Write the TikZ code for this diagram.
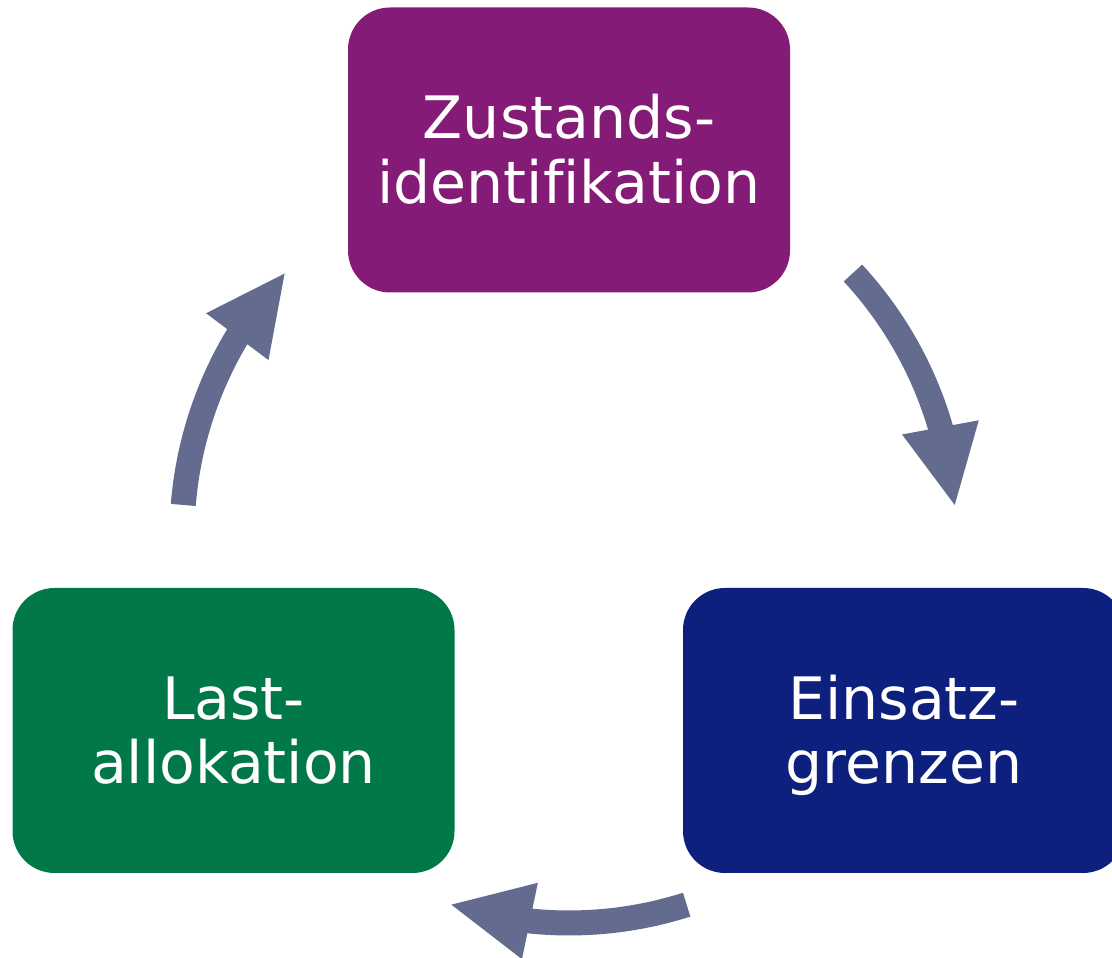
\documentclass[tikz,border=0pt]{standalone}
\usepackage{fontspec}
\setmainfont{DejaVu Sans}[Ligatures=NoCommon]
\usetikzlibrary{calc}
\definecolor{cpurple}{HTML}{841B77}
\definecolor{cgreen}{HTML}{007848}
\definecolor{cnavy}{HTML}{0E207E}
\definecolor{carrow}{HTML}{636C8F}
\begin{document}
\begin{tikzpicture}[x=1pt,y=1pt,
  box/.style={rounded corners=42pt, minimum width=442pt, minimum height=285pt, inner sep=0pt, outer sep=0pt},
  lbl/.style={text=white, align=center, font=\fontsize{58.5}{64.5}\selectfont, inner sep=0pt},
  shaft/.style={draw=carrow, line width=25pt},
  head/.style={fill=carrow}]
\clip (0,0) rectangle (1112,958);
% boxes
\node[box, fill=cpurple] (zst) at (569,808) {};
\node[lbl] (zstT) at ([yshift=-5pt]zst.center) {\vphantom{d}Zustands-\\identifikation\vphantom{g}};
\node[box, fill=cgreen] (last) at (233.5,227.5) {};
\node[lbl] (lastT) at ([yshift=-5pt]last.center) {\vphantom{d}Last-\\allokation\vphantom{g}};
\node[box, fill=cnavy] (ein) at (904,227.5) {};
\node[lbl] (einT) at ([yshift=-5pt]ein.center) {\vphantom{d}Einsatz-\\grenzen\vphantom{g}};
% cycle arrows
\coordinate (c) at (569,422);
% arrow 1
\coordinate (a1s) at ($(c)+(42.8:387pt)$);
\coordinate (a1b) at ($(c)+(16.3:387pt)$);
\coordinate (a1t) at ($(c)+(4.6:387pt)$);
\draw[shaft] (a1s) arc[start angle=42.8, end angle=12, radius=387pt];
\fill[head] (a1t) -- ($(a1b)!39pt!90:(a1t)$) -- ($(a1b)!39pt!-90:(a1t)$) -- cycle;
% arrow 2 (bottom)
\coordinate (a2s) at ($(c)+(-72.3:387pt)$);
\coordinate (a2b) at ($(c)+(-95.8:387pt)$);
\coordinate (a2t) at ($(c)+(-107.7:387pt)$);
\draw[shaft] (a2s) arc[start angle=-72.3, end angle=-99.5, radius=387pt];
\fill[head] (a2t) -- ($(a2b)!39pt!90:(a2t)$) -- ($(a2b)!39pt!-90:(a2t)$) -- cycle;
% arrow 3 (left)
\coordinate (a3s) at ($(c)+(175.4:387pt)$);
\coordinate (a3b) at ($(c)+(149.0:387pt)$);
\coordinate (a3t) at ($(c)+(137.3:387pt)$);
\draw[shaft] (a3s) arc[start angle=175.4, end angle=145, radius=387pt];
\fill[head] (a3t) -- ($(a3b)!39pt!90:(a3t)$) -- ($(a3b)!39pt!-90:(a3t)$) -- cycle;
\end{tikzpicture}
\end{document}
